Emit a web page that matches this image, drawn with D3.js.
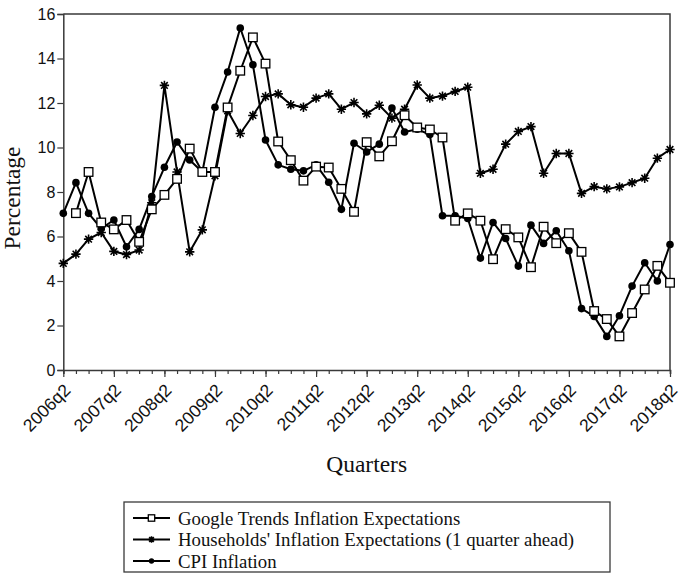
<!DOCTYPE html>
<html>
<head>
<meta charset="utf-8">
<script src="https://cdn.jsdelivr.net/npm/d3@7"></script>
<style>
  body { margin: 0; background: #fff; }
  svg { display: block; }
</style>
</head>
<body>
<div id="chart"></div>
<script>
// Quarters 2006q2 .. 2018q2
const quarters = [];
for (let y = 2006, q = 2; y < 2018 || (y === 2018 && q <= 2); ) {
    quarters.push(y + "q" + q);
    q++;
    if (q > 4) { q = 1; y++; }
}

// Series values, null = no data
const google = [null, 7.05, 8.9, 6.63, 6.32, 6.74, 5.76, 7.22, 7.87, 8.59, 9.95, 8.9, 8.9,
    11.8, 13.45, 14.95, 13.77, 10.27, 9.43, 8.51, 9.14, 9.1, 8.14, 7.11, 10.24, 9.6,
    10.28, 11.45, 10.9, 10.81, 10.45, 6.71, 7.04, 6.71, 4.98, 6.33, 5.96, 4.62, 6.44,
    5.7, 6.15, 5.31, 2.65, 2.29, 1.51, 2.56, 3.62, 4.68, 3.92];
const households = [4.79, 5.21, 5.88, 6.18, 5.33, 5.19, 5.39, 7.52, 12.79, 8.9, 5.31, 6.3,
    8.73, 11.65, 10.63, 11.44, 12.29, 12.41, 11.92, 11.81, 12.22, 12.41, 11.72, 12.02,
    11.51, 11.9, 11.32, 11.72, 12.81, 12.22, 12.31, 12.52, 12.71, 8.84, 9.02, 10.15,
    10.72, 10.94, 8.84, 9.73, 9.73, 7.94, 8.24, 8.14, 8.23, 8.42, 8.62, 9.52, 9.91];
const cpi = [7.04, 8.42, 7.04, 6.36, 6.74, 5.54, 6.32, 7.8, 9.11, 10.25, 9.44, 8.9, 11.81,
    13.39, 15.37, 13.72, 10.34, 9.22, 9.02, 8.95, 9.22, 8.44, 7.22, 10.19, 9.8, 10.15,
    11.77, 10.7, 10.82, 10.58, 6.93, 6.93, 6.81, 5.03, 6.63, 5.91, 4.67, 6.51, 5.69,
    6.26, 5.36, 2.76, 2.41, 1.51, 2.44, 3.77, 4.82, 4.0, 5.64];

const yTicks = [0, 2, 4, 6, 8, 10, 12, 14, 16];
const labelQuarters = quarters.filter((d, i) => i % 4 === 0);

const W = 685, H = 573;
const margin = { top: 14, right: 15, bottom: 203, left: 63.3 };
const width = 670 - margin.left;
const height = 370 - margin.top;

const svg = d3.select("#chart").append("svg")
    .attr("width", W)
    .attr("height", H);

const g = svg.append("g")
    .attr("transform", `translate(${margin.left},${margin.top})`);

const x = d3.scalePoint().domain(quarters).range([0, width]);
const y = d3.scaleLinear().domain([0, 16]).range([height, 0]);

const frame = "#3a3a3a";

// frame (top and right)
g.append("path")
    .attr("d", `M0,0H${width}V${height}`)
    .attr("fill", "none")
    .attr("stroke", frame)
    .attr("stroke-width", 1.5);

// y axis
const yAxis = g.append("g")
    .call(d3.axisLeft(y).tickValues(yTicks).tickSize(6).tickPadding(2).tickFormat(d3.format("d")));
yAxis.select(".domain").attr("stroke", frame).attr("stroke-width", 1.5);
yAxis.selectAll(".tick line").attr("stroke", frame).attr("stroke-width", 1.2);
yAxis.selectAll("text")
    .attr("font-family", "Liberation Sans, Arial, sans-serif")
    .attr("font-size", 16)
    .attr("fill", "#111");

// x axis: minor ticks every quarter, major ticks every 4
const xAxis = g.append("g")
    .attr("transform", `translate(0,${height})`)
    .call(d3.axisBottom(x).tickSize(4).tickFormat(""));
xAxis.select(".domain").attr("stroke", frame).attr("stroke-width", 1.5);
xAxis.selectAll(".tick line").attr("stroke", frame).attr("stroke-width", 1.2);

const xMajor = g.append("g")
    .attr("transform", `translate(0,${height})`)
    .call(d3.axisBottom(x).tickValues(labelQuarters).tickSize(7).tickFormat(""));
xMajor.select(".domain").remove();
xMajor.selectAll(".tick line").attr("stroke", frame).attr("stroke-width", 1.2);

g.selectAll(".xlabel")
    .data(labelQuarters)
    .enter()
    .append("text")
    .attr("class", "xlabel")
    .attr("transform", d => `translate(${x(d) + 4},${height + 17}) rotate(-45)`)
    .attr("text-anchor", "end")
    .attr("dy", "0.35em")
    .attr("font-family", "Liberation Sans, Arial, sans-serif")
    .attr("font-size", 17.5)
    .attr("fill", "#111")
    .text(d => d);

// axis titles
svg.append("text")
    .attr("transform", `translate(20,${margin.top + height / 2 + 6}) rotate(-90)`)
    .attr("text-anchor", "middle")
    .attr("font-family", "Liberation Serif, DejaVu Serif, serif")
    .attr("font-size", 23.5)
    .attr("fill", "#111")
    .text("Percentage");

svg.append("text")
    .attr("x", margin.left + width / 2)
    .attr("y", 472)
    .attr("text-anchor", "middle")
    .attr("font-family", "Liberation Serif, DejaVu Serif, serif")
    .attr("font-size", 23.5)
    .attr("fill", "#111")
    .text("Quarters");

// series
const line = d3.line()
    .defined(d => d.v != null)
    .x(d => x(d.q))
    .y(d => y(d.v));

const series = [
    { name: "Google Trends Inflation Expectations", values: google, marker: "square" },
    { name: "Households' Inflation Expectations (1 quarter ahead)", values: households, marker: "star" },
    { name: "CPI Inflation", values: cpi, marker: "circle" }
];

// eight-point star used for the households series
const asterisk = {
    draw(context, size) {
        const r = Math.sqrt(size) / 2;
        for (let k = 0; k < 4; k++) {
            const a = k * Math.PI / 4;
            context.moveTo(-r * Math.cos(a), -r * Math.sin(a));
            context.lineTo(r * Math.cos(a), r * Math.sin(a));
        }
    }
};

function drawMarker(sel, type, size) {
    if (type === "square") {
        sel.append("rect")
            .attr("x", -size).attr("y", -size)
            .attr("width", size * 2).attr("height", size * 2)
            .attr("fill", "#fff").attr("stroke", "#000").attr("stroke-width", 1.3);
    } else if (type === "circle") {
        sel.append("circle").attr("r", size * 0.95).attr("fill", "#000");
    } else {
        sel.append("path")
            .attr("d", d3.symbol(asterisk, size * size * 5.5))
            .attr("fill", "none").attr("stroke", "#000").attr("stroke-width", 1.6);
    }
}

series.forEach(s => {
    const pts = quarters.map((q, i) => ({ q: q, v: s.values[i] }));
    g.append("path")
        .datum(pts)
        .attr("fill", "none")
        .attr("stroke", "#000")
        .attr("stroke-width", 2)
        .attr("stroke-linejoin", "round")
        .attr("d", line);
});

series.slice().reverse().forEach(s => {
    const pts = quarters.map((q, i) => ({ q: q, v: s.values[i] })).filter(d => d.v != null);
    const m = g.selectAll(null)
        .data(pts)
        .enter()
        .append("g")
        .attr("transform", d => `translate(${x(d.q)},${y(d.v)})`);
    drawMarker(m, s.marker, s.marker === "square" ? 4.3 : 4);
});

// legend
const legend = svg.append("g").attr("transform", "translate(124,502)");
legend.append("rect")
    .attr("width", 486).attr("height", 70)
    .attr("fill", "#fff").attr("stroke", frame).attr("stroke-width", 1.3);

series.forEach((s, i) => {
    const row = legend.append("g").attr("transform", `translate(0,${16 + i * 21.5})`);
    row.append("line")
        .attr("x1", 9).attr("x2", 46)
        .attr("stroke", "#000").attr("stroke-width", 2);
    const mk = row.append("g").attr("transform", "translate(27.5,0)");
    drawMarker(mk, s.marker, s.marker === "square" ? 3.2 : 2.8);
    row.append("text")
        .attr("x", 54)
        .attr("dy", "0.35em")
        .attr("font-family", "Liberation Serif, DejaVu Serif, serif")
        .attr("font-size", 18.8)
        .attr("fill", "#111")
        .text(s.name);
});
</script>
</body>
</html>
